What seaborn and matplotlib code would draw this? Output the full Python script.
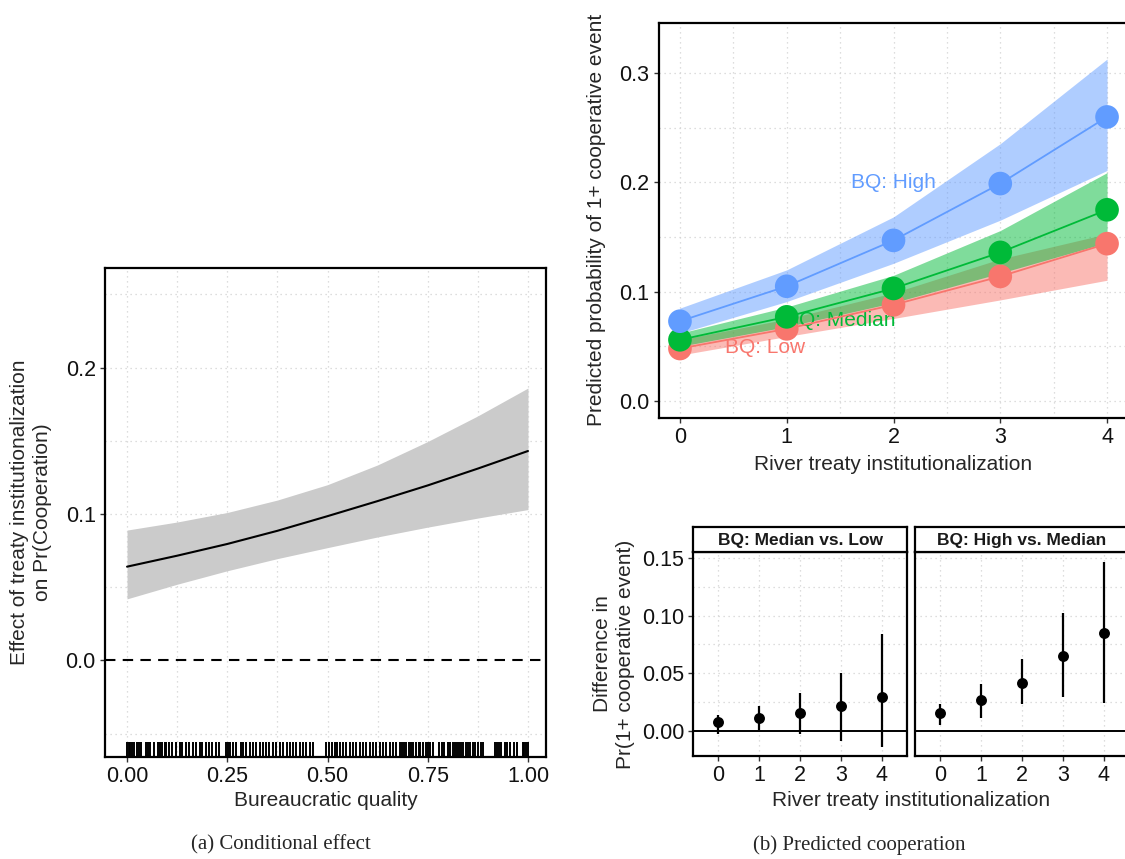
import numpy as np
import pandas as pd
import matplotlib
matplotlib.use("Agg")
import matplotlib.pyplot as plt
import seaborn as sns

# (a) conditional effect of treaty institutionalization
bq_grid = [0.0, 0.125, 0.25, 0.375, 0.5, 0.625, 0.75, 0.875, 1.0]
effect = [0.064, 0.0715, 0.0795, 0.0885, 0.0985, 0.1088, 0.1195, 0.131, 0.143]
effect_lo = [0.042, 0.052, 0.0612, 0.0695, 0.077, 0.0843, 0.091, 0.0972, 0.103]
effect_hi = [0.089, 0.0945, 0.101, 0.1095, 0.120, 0.1335, 0.1495, 0.167, 0.186]

rug_bq = [0.000, 0.004, 0.008, 0.013, 0.017, 0.024, 0.031, 0.036, 0.047, 0.053,
          0.058, 0.066, 0.078, 0.083, 0.088, 0.094, 0.097, 0.104, 0.113, 0.121,
          0.131, 0.138, 0.147, 0.155, 0.164, 0.172, 0.181, 0.188, 0.198, 0.205,
          0.213, 0.222, 0.230, 0.248, 0.252, 0.258, 0.264, 0.272, 0.283, 0.289,
          0.297, 0.306, 0.314, 0.321, 0.331, 0.338, 0.347, 0.355, 0.364, 0.372,
          0.381, 0.389, 0.398, 0.406, 0.415, 0.422, 0.431, 0.439, 0.447, 0.456,
          0.464, 0.497, 0.503, 0.512, 0.518, 0.523, 0.530, 0.539, 0.547, 0.556,
          0.564, 0.572, 0.581, 0.589, 0.597, 0.606, 0.614, 0.622, 0.631, 0.639,
          0.647, 0.656, 0.663, 0.672, 0.680, 0.687, 0.692, 0.697, 0.703, 0.708,
          0.713, 0.721, 0.727, 0.731, 0.739, 0.745, 0.750, 0.756, 0.762, 0.777,
          0.785, 0.791, 0.800, 0.806, 0.813, 0.817, 0.822, 0.828, 0.833, 0.839,
          0.845, 0.851, 0.856, 0.862, 0.868, 0.875, 0.883, 0.889, 0.918, 0.922,
          0.927, 0.934, 0.942, 0.948, 0.956, 0.964, 0.972, 0.987, 0.991, 0.995,
          1.000]

# (b) predicted probability by treaty institutionalization
treaty = [0, 1, 2, 3, 4]
prob_low = [0.048, 0.066, 0.088, 0.114, 0.144]
prob_low_lo = [0.042, 0.059, 0.0755, 0.0925, 0.1105]
prob_low_hi = [0.056, 0.075, 0.099, 0.130, 0.153]
prob_med = [0.056, 0.077, 0.103, 0.136, 0.175]
prob_med_lo = [0.050, 0.068, 0.090, 0.117, 0.145]
prob_med_hi = [0.062, 0.086, 0.115, 0.156, 0.209]
prob_high = [0.073, 0.105, 0.147, 0.199, 0.260]
prob_high_lo = [0.062, 0.091, 0.126, 0.1655, 0.211]
prob_high_hi = [0.085, 0.120, 0.1685, 0.2355, 0.313]

# differences between BQ levels
diff_ml = [0.007, 0.0105, 0.0155, 0.0215, 0.029]
diff_ml_lo = [-0.003, 0.0003, -0.003, -0.009, -0.0142]
diff_ml_hi = [0.0134, 0.0212, 0.0323, 0.0497, 0.0837]
diff_hm = [0.0154, 0.0265, 0.0416, 0.0651, 0.0852]
diff_hm_lo = [0.0047, 0.011, 0.0233, 0.0294, 0.0241]
diff_hm_hi = [0.0235, 0.0407, 0.0619, 0.1023, 0.1465]

C_LOW, C_MED, C_HIGH = "#F8766D", "#00BA38", "#619CFF"

sns.set_theme(style="white")
plt.rcParams["font.family"] = ["Liberation Sans", "DejaVu Sans"]
plt.rcParams["axes.linewidth"] = 1.6
plt.rcParams["xtick.major.size"] = 3.6
plt.rcParams["ytick.major.size"] = 3.6
plt.rcParams["xtick.major.width"] = 1.0
plt.rcParams["ytick.major.width"] = 1.0
plt.rcParams["xtick.color"] = "#333333"
plt.rcParams["ytick.color"] = "#333333"
plt.rcParams["xtick.labelcolor"] = "#111111"
plt.rcParams["ytick.labelcolor"] = "#111111"

W, H = 1125, 859
fig = plt.figure(figsize=(W / 100, H / 100), dpi=100)


def box(x0, y0, x1, y1):
    return [x0 / W, 1 - y1 / H, (x1 - x0) / W, (y1 - y0) / H]


def dotted_grid(ax, xs, ys):
    for x in xs:
        ax.axvline(x, color="#d2d2d2", lw=0.9, ls=(0, (1, 3)), zorder=0)
    for y in ys:
        ax.axhline(y, color="#d2d2d2", lw=0.9, ls=(0, (1, 3)), zorder=0)


def finish(ax, fs=15.5):
    for s in ax.spines.values():
        s.set_color("black")
    ax.tick_params(axis="both", which="major", labelsize=fs, direction="out",
                   bottom=True, left=True, pad=3)
    ax.set_xlabel("")
    ax.set_ylabel("")


# ---------- (a) ----------
ax_a = fig.add_axes(box(105, 268, 546, 757))
df_a = pd.DataFrame({"bq": bq_grid, "effect": effect})
dotted_grid(ax_a, [0, 0.125, 0.25, 0.375, 0.5, 0.625, 0.75, 0.875, 1.0],
            [-0.05, 0.05, 0.1, 0.15, 0.2, 0.25])
ax_a.fill_between(bq_grid, effect_lo, effect_hi, color="#cbcbcb", lw=0, zorder=1)
sns.lineplot(data=df_a, x="bq", y="effect", color="black", lw=1.5, ax=ax_a, zorder=3)
ax_a.axhline(0, color="black", lw=1.5, ls=(0, (5, 3.5)), zorder=2)
sns.rugplot(x=rug_bq, height=0.03, color="black", linewidth=1.4, ax=ax_a,
            expand_margins=False)
ax_a.set_xlim(-0.055, 1.045)
ax_a.set_ylim(-0.066, 0.268)
ax_a.set_xticks([0, 0.25, 0.5, 0.75, 1.0])
ax_a.set_xticklabels(["0.00", "0.25", "0.50", "0.75", "1.00"])
ax_a.set_yticks([0.0, 0.1, 0.2])
ax_a.set_yticklabels(["0.0", "0.1", "0.2"])
finish(ax_a)
fig.text(325.5 / W, 1 - 800 / H, "Bureaucratic quality", ha="center", va="center", fontsize=15)
fig.text(31 / W, 1 - 512 / H, "Effect of treaty institutionalization\non Pr(Cooperation)",
         ha="center", va="center", rotation=90, fontsize=15, linespacing=1.25)

# ---------- (b) upper ----------
ax_b = fig.add_axes(box(658.6, 23, 1128.4, 418))
dotted_grid(ax_b, [0, 0.5, 1, 1.5, 2, 2.5, 3, 3.5, 4], [0, 0.05, 0.1, 0.15, 0.2, 0.25, 0.3])
groups = [
    ("Low", prob_low, prob_low_lo, prob_low_hi, C_LOW),
    ("Median", prob_med, prob_med_lo, prob_med_hi, C_MED),
    ("High", prob_high, prob_high_lo, prob_high_hi, C_HIGH),
]
for name, est, lo, hi, col in groups:
    ax_b.fill_between(treaty, lo, hi, color=col, alpha=0.5, lw=0, zorder=1)
ax_b.text(2.0, 0.20, "BQ: High", color=C_HIGH, fontsize=15, ha="center", va="center", zorder=2)
ax_b.text(1.5, 0.074, "BQ: Median", color=C_MED, fontsize=15, ha="center", va="center", zorder=2)
ax_b.text(0.8, 0.049, "BQ: Low", color=C_LOW, fontsize=15, ha="center", va="center", zorder=2)
df_b = pd.DataFrame({
    "treaty": treaty * 3,
    "prob": prob_low + prob_med + prob_high,
    "bq": ["Low"] * 5 + ["Median"] * 5 + ["High"] * 5,
})
pal = {"Low": C_LOW, "Median": C_MED, "High": C_HIGH}
sns.lineplot(data=df_b, x="treaty", y="prob", hue="bq", palette=pal, lw=1.3,
             legend=False, ax=ax_b, zorder=3)
sns.scatterplot(data=df_b, x="treaty", y="prob", hue="bq", palette=pal, s=290,
                linewidth=0, legend=False, ax=ax_b, zorder=4)
ax_b.set_xlim(-0.2, 4.2)
ax_b.set_ylim(-0.0156, 0.346)
ax_b.set_xticks(treaty)
ax_b.set_yticks([0.0, 0.1, 0.2, 0.3])
ax_b.set_yticklabels(["0.0", "0.1", "0.2", "0.3"])
finish(ax_b)
fig.text(893 / W, 1 - 464 / H, "River treaty institutionalization", ha="center", va="center", fontsize=15)
fig.text(597 / W, 1 - 220 / H, "Predicted probability of 1+ cooperative event",
         ha="center", va="center", rotation=90, fontsize=15)

# ---------- (b) lower facets ----------
facets = [
    ("BQ: Median vs. Low", diff_ml, diff_ml_lo, diff_ml_hi, 693.4, 906.6),
    ("BQ: High vs. Median", diff_hm, diff_hm_lo, diff_hm_hi, 915.4, 1128.6),
]
for i, (title, est, lo, hi, x0, x1) in enumerate(facets):
    ax = fig.add_axes(box(x0, 552, x1, 756))
    dotted_grid(ax, treaty, [0.025, 0.05, 0.075, 0.1, 0.125, 0.15])
    ax.axhline(0, color="black", lw=1.4, zorder=2)
    ax.vlines(treaty, lo, hi, color="black", lw=1.6, zorder=3)
    sns.scatterplot(x=treaty, y=est, color="black", s=62, linewidth=0, ax=ax, zorder=4)
    ax.set_xlim(-0.6, 4.6)
    ax.set_ylim(-0.0222, 0.1555)
    ax.set_xticks(treaty)
    ax.set_yticks([0.0, 0.05, 0.10, 0.15])
    ax.set_yticklabels(["0.00", "0.05", "0.10", "0.15"])
    finish(ax)
    if i == 1:
        ax.tick_params(axis="y", left=False, labelleft=False)
    strip = fig.add_axes(box(x0, 527, x1, 552))
    strip.set_xticks([])
    strip.set_yticks([])
    strip.set_facecolor("white")
    for s in strip.spines.values():
        s.set_color("black")
    strip.text(0.5, 0.47, title, ha="center", va="center", fontsize=12.5,
               fontweight="bold", color="#1a1a1a", transform=strip.transAxes)

fig.text(911 / W, 1 - 800 / H, "River treaty institutionalization", ha="center", va="center", fontsize=15)
fig.text(614 / W, 1 - 654 / H, "Difference in\nPr(1+ cooperative event)",
         ha="center", va="center", rotation=90, fontsize=15, linespacing=1.25)

# captions
fig.text(281 / W, 1 - 845 / H, "(a) Conditional effect", ha="center", va="center",
         fontsize=15, family=["Liberation Serif", "DejaVu Serif"])
fig.text(859 / W, 1 - 845 / H, "(b) Predicted cooperation", ha="center", va="center",
         fontsize=15, family=["Liberation Serif", "DejaVu Serif"])

fig.savefig("out.png", dpi=100)
